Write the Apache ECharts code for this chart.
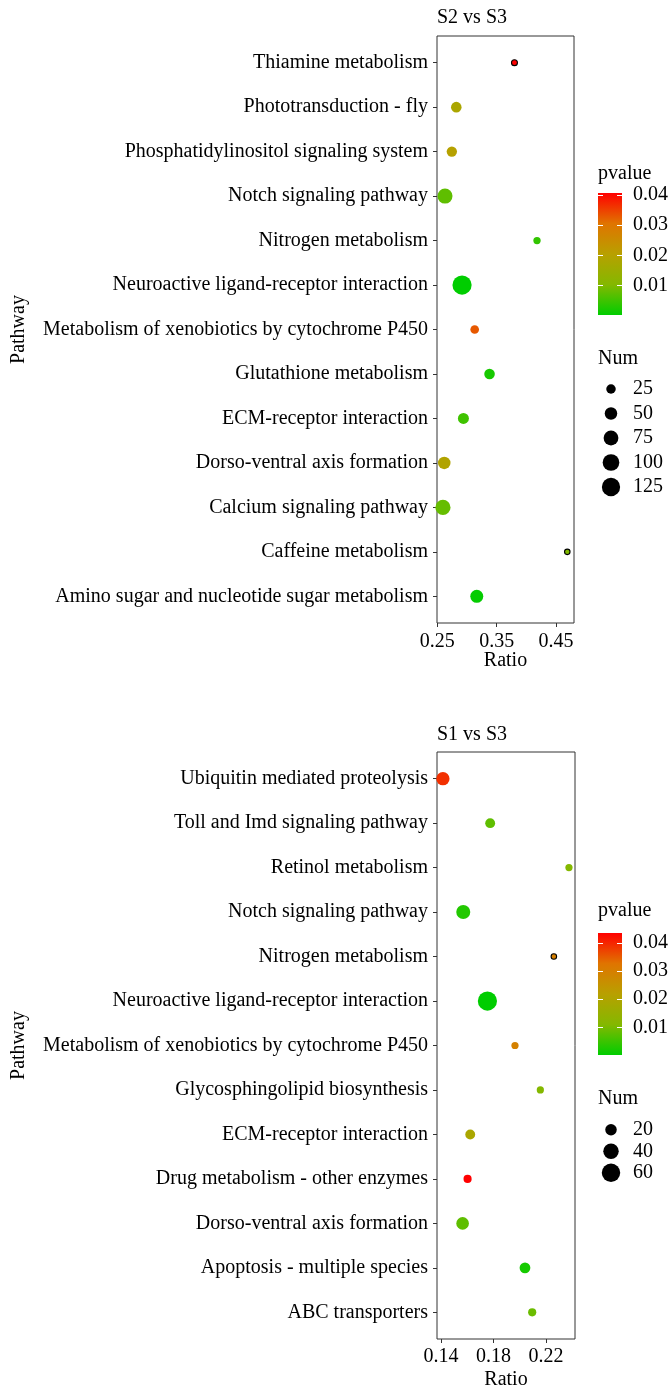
<!DOCTYPE html>
<html><head><meta charset="utf-8">
<script src="https://cdn.jsdelivr.net/npm/echarts@6/dist/echarts.min.js"></script>
<style>html,body{margin:0;padding:0;background:#fff}#c{width:670px;height:1392px}</style>
</head><body><div id="c"></div>
<script>
// ---------- DATA ----------
const topCats = ['Thiamine metabolism','Phototransduction - fly','Phosphatidylinositol signaling system','Notch signaling pathway','Nitrogen metabolism','Neuroactive ligand-receptor interaction','Metabolism of xenobiotics by cytochrome P450','Glutathione metabolism','ECM-receptor interaction','Dorso-ventral axis formation','Calcium signaling pathway','Caffeine metabolism','Amino sugar and nucleotide sugar metabolism'];
const topRatio = [0.380, 0.282, 0.2745, 0.263, 0.418, 0.2917, 0.313, 0.338, 0.294, 0.2617, 0.2595, 0.469, 0.3165];
const topPvalue = [0.0407, 0.018, 0.020, 0.0075, 0.004, 0.0002, 0.033, 0.002, 0.005, 0.019, 0.008, 0.010, 0.0005];
const topNum = [8, 33, 31, 78, 13, 140, 20, 33, 36, 50, 80, 4, 55];
const topRatioTicks = [0.25, 0.35, 0.45];
const topNumBreaks = [25, 50, 75, 100, 125];

const botCats = ['Ubiquitin mediated proteolysis','Toll and Imd signaling pathway','Retinol metabolism','Notch signaling pathway','Nitrogen metabolism','Neuroactive ligand-receptor interaction','Metabolism of xenobiotics by cytochrome P450','Glycosphingolipid biosynthesis','ECM-receptor interaction','Drug metabolism - other enzymes','Dorso-ventral axis formation','Apoptosis - multiple species','ABC transporters'];
const botRatio = [0.1415, 0.1775, 0.2375, 0.157, 0.226, 0.1754, 0.1964, 0.2157, 0.1623, 0.1603, 0.1565, 0.204, 0.2095];
const botPvalue = [0.039, 0.008, 0.011, 0.003, 0.030, 0.0002, 0.0295, 0.011, 0.019, 0.0435, 0.008, 0.002, 0.009];
const botNum = [28, 14, 7, 32, 3, 66, 7, 7, 14, 9, 25, 17, 9];
const botRatioTicks = [0.14, 0.18, 0.22];
const botNumBreaks = [20, 40, 60];

const pvalueTicks = [0.01, 0.02, 0.03, 0.04];

// ---------- STYLE ----------
const FONT = "'Liberation Serif','Times New Roman',serif";
const txt = {fontFamily: FONT, fontSize: 20, color: '#000'};
const PAL = ['#00CD00', '#84B800', '#B8A000', '#E07400', '#FF0000'];

function sizeFn(nums) {
  const mn = Math.min(...nums), mx = Math.max(...nums);
  return n => 3.2 * (1 + 5 * Math.sqrt(Math.max(0, n - mn) / (mx - mn)));
}

const grid = [], xAxis = [], yAxis = [], series = [], visualMap = [], title = [];

function addPanel(P) {
  const sz = sizeFn(P.num);
  const pmin = Math.min(...P.p), pmax = Math.max(...P.p);
  // main plot
  let gi = grid.length;
  grid.push({left: 437, top: P.top, width: P.w, height: P.h, show: true, borderColor: '#333', borderWidth: 1, containLabel: false, outerBoundsMode: 'none'});
  let xi = xAxis.length;
  xAxis.push({gridIndex: gi, type: 'value', min: P.xmin, max: P.xmax, position: 'bottom',
    name: 'Ratio', nameLocation: 'middle', nameGap: P.xNameGap, nameTextStyle: txt, nameMoveOverlap: false,
    axisLine: {show: false, onZero: false}, splitLine: {show: false},
    axisTick: {show: true, length: 4, lineStyle: {color: '#333'}, customValues: P.xticks},
    axisLabel: Object.assign({}, txt, {margin: P.xLabelMargin, customValues: P.xticks, formatter: v => (+v).toFixed(2)})});
  let yi = yAxis.length;
  const idx = P.cats.map((c, i) => i);
  yAxis.push({gridIndex: gi, type: 'value', inverse: true, min: -0.6, max: P.cats.length - 0.4, position: 'left',
    name: 'Pathway', nameLocation: 'middle', nameGap: 408, nameTextStyle: txt, nameMoveOverlap: false,
    axisLine: {show: false, onZero: false}, splitLine: {show: false},
    axisTick: {show: true, length: 4, lineStyle: {color: '#333'}, customValues: idx},
    axisLabel: Object.assign({}, txt, {margin: 9, customValues: idx, formatter: v => P.cats[Math.round(v)]})});
  let si = series.length;
  series.push({type: 'scatter', xAxisIndex: xi, yAxisIndex: yi,
    data: P.ratio.map((r, i) => ({value: [r, i, P.p[i], P.num[i]],
      itemStyle: sz(P.num[i]) < 6.5 ? {borderColor: '#000', borderWidth: 1.1} : {}})),
    symbolSize: v => Math.max(5.5, sz(v[3])), itemStyle: {opacity: 1}, silent: true});
  visualMap.push({type: 'continuous', show: false, seriesIndex: si, dimension: 2, min: pmin, max: pmax, inRange: {color: PAL}});

  // colour bar
  gi = grid.length;
  grid.push({left: 598, top: P.barTop, width: 24, height: P.barH, containLabel: false, outerBoundsMode: 'none'});
  xi = xAxis.length;
  xAxis.push({gridIndex: gi, type: 'category', data: ['pvalue'], show: false});
  yi = yAxis.length;
  yAxis.push({gridIndex: gi, type: 'value', min: pmin, max: pmax, position: 'left', z: 10,
    axisLine: {show: false, onZero: false}, splitLine: {show: false}, axisLabel: {show: false},
    axisTick: {show: true, inside: true, length: 5, lineStyle: {color: '#fff', width: 1}, customValues: pvalueTicks}});
  yAxis.push({gridIndex: gi, type: 'value', min: pmin, max: pmax, position: 'right', z: 10,
    axisLine: {show: false, onZero: false}, splitLine: {show: false},
    axisLabel: Object.assign({}, txt, {margin: 11, customValues: pvalueTicks, formatter: v => (+v).toFixed(2)}),
    axisTick: {show: true, inside: true, length: 5, lineStyle: {color: '#fff', width: 1}, customValues: pvalueTicks}});
  series.push({type: 'bar', xAxisIndex: xi, yAxisIndex: yi, data: [pmax], barWidth: '100%', silent: true, z: 1,
    itemStyle: {color: new echarts.graphic.LinearGradient(0, 1, 0, 0, PAL.map((c, i) => ({offset: i / (PAL.length - 1), color: c})))}});

  // size legend
  gi = grid.length;
  grid.push({left: 599, top: P.legTop, width: 24, height: P.legH, containLabel: false, outerBoundsMode: 'none'});
  xi = xAxis.length;
  xAxis.push({gridIndex: gi, type: 'value', min: -1, max: 1, show: false});
  yi = yAxis.length;
  yAxis.push({gridIndex: gi, type: 'category', data: P.breaks.map(String), inverse: true, position: 'right',
    axisLine: {show: false}, axisTick: {show: false}, splitLine: {show: false},
    axisLabel: Object.assign({}, txt, {margin: 10, interval: 0})});
  series.push({type: 'scatter', xAxisIndex: xi, yAxisIndex: yi, data: P.breaks.map((b, i) => [0, i, b]),
    symbolSize: v => sz(v[2]), itemStyle: {color: '#000', opacity: 1}, silent: true});

  // texts
  const tt = Object.assign({}, txt, {fontWeight: 'normal'});
  title.push({text: P.title, left: 437, top: P.titleTop, padding: 0, textStyle: tt});
  title.push({text: 'pvalue', left: 598, top: P.pTitleTop, padding: 0, textStyle: tt});
  title.push({text: 'Num', left: 598, top: P.nTitleTop, padding: 0, textStyle: tt});
}

addPanel({title: 'S2 vs S3', titleTop: 8, cats: topCats, ratio: topRatio, p: topPvalue, num: topNum,
  xticks: topRatioTicks, breaks: topNumBreaks,
  top: 36, h: 587, w: 137, xmin: 0.2495, xmax: 0.4803, xNameGap: 28, xLabelMargin: 9,
  barTop: 193, barH: 122, pTitleTop: 164, legTop: 376.75, legH: 122.5, nTitleTop: 349});
addPanel({title: 'S1 vs S3', titleTop: 725, cats: botCats, ratio: botRatio, p: botPvalue, num: botNum,
  xticks: botRatioTicks, breaks: botNumBreaks,
  top: 752, h: 587, w: 138, xmin: 0.137, xmax: 0.2421, xNameGap: 31, xLabelMargin: 8,
  barTop: 933, barH: 122, pTitleTop: 901, legTop: 1119, legH: 64.5, nTitleTop: 1089});

const chart = echarts.init(document.getElementById('c'), null, {renderer: 'canvas'});
chart.setOption({animation: false, backgroundColor: '#fff', title, grid, xAxis, yAxis, series, visualMap});
</script></body></html>
